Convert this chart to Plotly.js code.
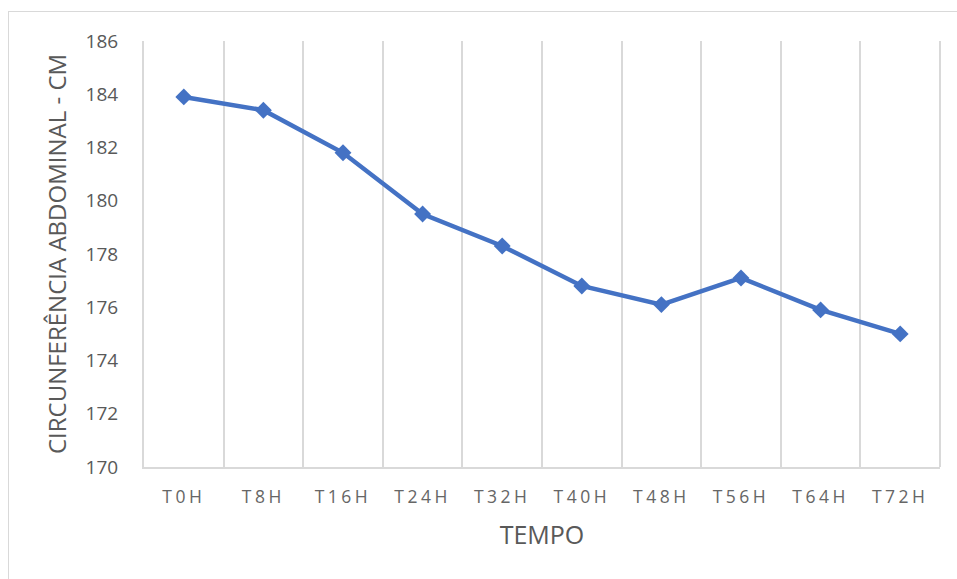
<!DOCTYPE html>
<html>
<head>
<meta charset="utf-8">
<script src="https://cdn.plot.ly/plotly-3.0.1.min.js"></script>
<style>
  html, body { margin: 0; padding: 0; background: #fff; }
  #wrap { position: relative; width: 957px; height: 579px; overflow: hidden; }
  #frame { position: absolute; left: 8px; top: 11px; width: 1000px; height: 700px;
           border: 1px solid #d9d9d9; box-sizing: border-box; pointer-events: none; z-index: 5; }
  #chart { position: absolute; left: 0; top: 0; width: 957px; height: 579px; }
  .xtick text { letter-spacing: 3.5px; }
</style>
</head>
<body>
<div id="wrap">
  <div id="chart"></div>
  <div id="frame"></div>
</div>
<script>
const categories = ["T0H", "T8H", "T16H", "T24H", "T32H", "T40H", "T48H", "T56H", "T64H", "T72H"];
const circunferencia = [183.9, 183.4, 181.8, 179.5, 178.3, 176.8, 176.1, 177.1, 175.9, 175.0];
const yTicks = [170, 172, 174, 176, 178, 180, 182, 184, 186];

const trace = {
  x: categories,
  y: circunferencia,
  type: "scatter",
  mode: "lines+markers",
  line: { color: "#4472C4", width: 4.5 },
  marker: { symbol: "diamond", size: 13, color: "#4472C4" },
  hoverinfo: "skip",
  showlegend: false
};

const layout = {
  width: 957,
  height: 579,
  margin: { l: 144, r: 17, t: 41, b: 112 },
  paper_bgcolor: "#ffffff",
  plot_bgcolor: "#ffffff",
  font: { family: "Open Sans, Lato, sans-serif", color: "#595959" },
  xaxis: {
    type: "category",
    range: [-0.5, 9.5],
    tickson: "boundaries",
    showgrid: true,
    gridcolor: "#d9d9d9",
    gridwidth: 2,
    showline: true,
    linecolor: "#d9d9d9",
    linewidth: 2,
    ticks: "",
    tickfont: { size: 17.5, color: "#666666" },
    ticklabelstandoff: 13,
    title: { text: "TEMPO", font: { size: 25, color: "#595959" }, standoff: 19 },
    zeroline: false,
    fixedrange: true
  },
  yaxis: {
    range: [170, 186],
    tickvals: yTicks,
    ticktext: yTicks.map(String),
    showgrid: false,
    showline: true,
    linecolor: "#d9d9d9",
    linewidth: 2,
    ticks: "",
    ticklabelstandoff: 20,
    tickfont: { size: 19, color: "#595959" },
    title: { text: "CIRCUNFERÊNCIA ABDOMINAL - CM", font: { size: 24, color: "#595959" }, standoff: 12 },
    zeroline: false,
    fixedrange: true
  },
  shapes: [
    { type: "line", xref: "paper", yref: "paper", x0: 1, x1: 1, y0: 0, y1: 1,
      line: { color: "#d9d9d9", width: 2 }, layer: "below" }
  ]
};

Plotly.newPlot("chart", [trace], layout, { displayModeBar: false, staticPlot: true });
</script>
</body>
</html>
